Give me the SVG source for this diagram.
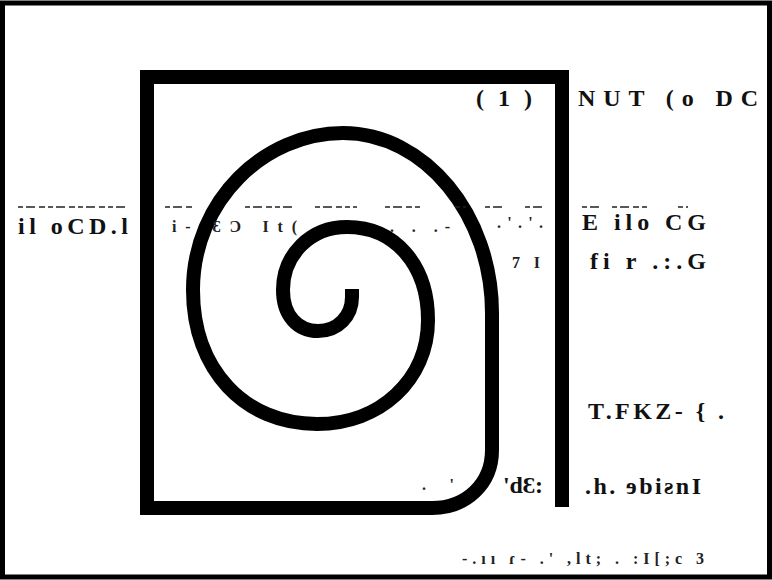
<svg xmlns="http://www.w3.org/2000/svg" width="772" height="580" viewBox="0 0 772 580">
<style>
.ink{fill:none;stroke:#000;stroke-width:14;stroke-linejoin:miter;stroke-linecap:butt}
.t{font-family:"Liberation Serif","DejaVu Serif",serif;font-weight:bold;font-size:24px;fill:#111}
.s{font-family:"Liberation Serif","DejaVu Serif",serif;font-weight:bold;font-size:16px;fill:#222}
.d{fill:none;stroke:#222;stroke-width:1.5}
</style>
<rect x="0" y="0" width="772" height="580" fill="#fff"/>
<g id="border"><rect x="2.5" y="3" width="767" height="574" fill="none" stroke="#000" stroke-width="5"/></g>
<g id="spiral"><path class="ink" d="M562,507 L562,77 L147,77 L147,508 L432,508 C466,508 492,484 492,450 L492,313 C492,215 425,133 343,133 C265,133 193,200 193,290 C193,370 245,424 317,424 C380,424 428,380 428,320 C428,265 395,227 347,227 C310,227 283,255 283,290 C283,316 298,331 318,331 C338,331 352,316 352,297 L352,289"/></g>
<g id="rule"><path class="d" stroke-dasharray="5 3 9 4 6 3" d="M18,207 H128 M165,207 H192 M245,207 H292 M315,207 H357 M385,207 H422 M455,207 H466 M485,207 H506 M525,207 H546 M582,207 H601 M612,207 H650 M678,207 H688"/></g>
<g id="labels">
<text class="t" x="476" y="106" textLength="56" lengthAdjust="spacing">(1)</text>
<text class="t" x="578" y="106" textLength="180" lengthAdjust="spacing">NUT (o DC</text>
<text class="t" x="18" y="234" textLength="110" lengthAdjust="spacing">il  oCD.l</text>
<text class="s" x="172" y="232" textLength="125" lengthAdjust="spacing">i-  ƐƆ  It(</text>
<text class="s" x="390" y="232" textLength="60" lengthAdjust="spacing">.  .  .-</text>
<text class="s" x="497" y="228" textLength="46" lengthAdjust="spacing">.'.'.</text>
<text class="t" x="582" y="230" textLength="124" lengthAdjust="spacing">E  ilo  CG</text>
<text class="s" x="512" y="268" textLength="28" lengthAdjust="spacing">7 I</text>
<text class="t" x="590" y="269" textLength="116" lengthAdjust="spacing">fi  r  .:.G</text>
<text class="t" x="588" y="419" textLength="136" lengthAdjust="spacing">T.FKZ- { .</text>
<text class="s" x="422" y="490" textLength="32" lengthAdjust="spacing">.  '</text>
<text class="t" x="503" y="493" textLength="40" lengthAdjust="spacing">'dƐ:</text>
<text class="t" x="585" y="494" textLength="116" lengthAdjust="spacing">.h.  ɘbiƨnI</text>
<text class="s" x="462" y="564" textLength="242" lengthAdjust="spacing">-.ıı   ɾ-   .'   ,lt;  .  :I[;c 3</text>
</g>
</svg>
